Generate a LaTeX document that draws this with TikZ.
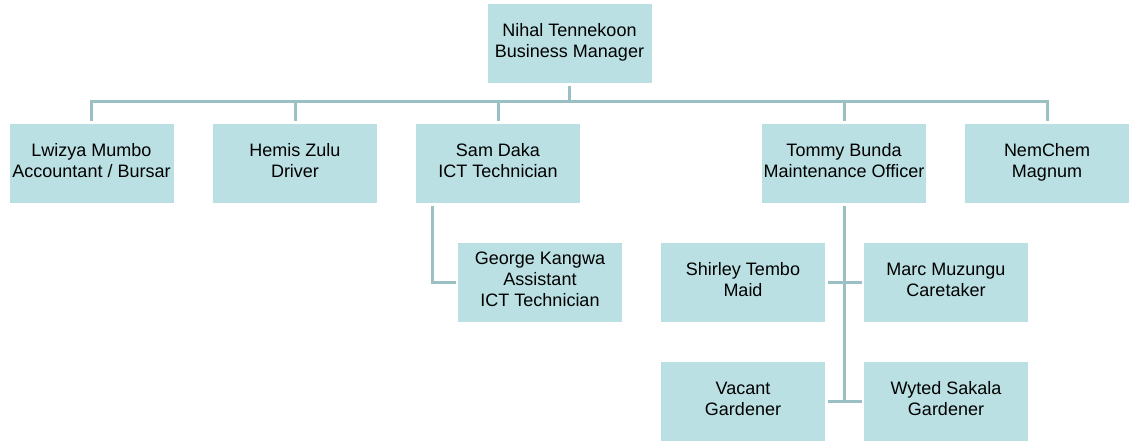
\documentclass[tikz,border=0pt]{standalone}
\usepackage{fontspec}
\setmainfont{Liberation Sans}
\definecolor{boxfill}{RGB}{186,224,227}
\definecolor{linecol}{RGB}{155,192,196}
\tikzset{
  box/.style={fill=boxfill, minimum width=164pt, minimum height=79pt, inner sep=0pt,
    outer sep=4pt, align=center, font=\fontsize{18}{21}\selectfont,
    execute at begin node={\rule{0pt}{19.7pt}}, execute at end node=\strut},
  conn/.style={draw=linecol, line width=3pt, line cap=rect}
}
\begin{document}
\begin{tikzpicture}[x=1pt,y=-1pt]
    \useasboundingbox (0,0) rectangle (1130,441);
    % Top of the tree
    \node[box] (boss) at (569.5,44) {Nihal Tennekoon\\Business Manager};
    \coordinate (bus) at (569.5,102);
    % First row
    \node[box] (lwizya)  at (91.5,163.5)  {Lwizya Mumbo\\Accountant / Bursar};
    \node[box] (hemis)   at (295,163.5)   {Hemis Zulu\\Driver};
    \node[box] (sam)     at (498,163.5)   {Sam Daka\\ICT Technician};
    \node[box] (tommy)   at (844,163.5)   {Tommy Bunda\\Maintenance Officer};
    \node[box] (nemchem) at (1047,163.5)  {NemChem\\Magnum};
    % Under Sam Daka
    \node[box] (george)  at (540,282.5)   {George Kangwa\\Assistant\\ICT Technician};
    % Under Tommy Bunda
    \node[box] (shirley) at (743,282.5)   {Shirley Tembo\\Maid};
    \node[box] (marc)    at (946,282.5)   {Marc Muzungu\\Caretaker};
    \node[box] (vacant)  at (743,401.5)   {Vacant\\Gardener};
    \node[box] (wyted)   at (946,401.5)   {Wyted Sakala\\Gardener};
    % Connectors
    \draw[conn] (boss.south) -- (bus);
    \draw[conn] (lwizya.north) -- (lwizya.north |- bus) -| (nemchem.north);
    \foreach \n in {hemis,sam,tommy}
        \draw[conn] (\n.north) -- (\n.north |- bus);
    \draw[conn] (sam.south west) ++(20,0) |- (george.west);
    \draw[conn] (tommy.south) -- (tommy.south |- vacant.east);
    \draw[conn] (shirley.east) -- (marc.west);
    \draw[conn] (vacant.east) -- (wyted.west);
\end{tikzpicture}
\end{document}
